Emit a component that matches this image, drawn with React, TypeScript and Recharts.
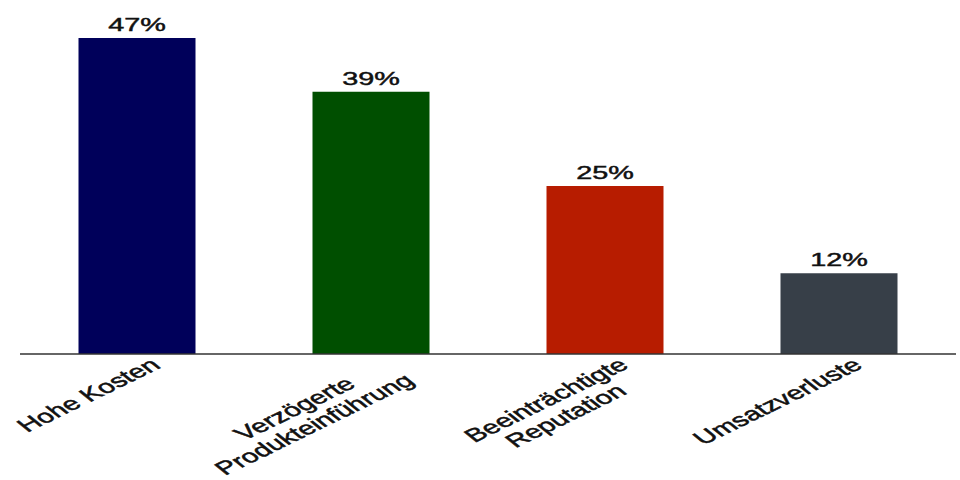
import { BarChart, Bar, XAxis, YAxis, Cell, LabelList } from 'recharts';

// Reference looks horizontally stretched, so text is drawn with a matching x-scale
const STRETCH = 1.6;
const FONT = '"Liberation Sans", Arial, Helvetica, sans-serif';

const categories = ['Hohe Kosten', 'Verzögerte\nProdukteinführung', 'Beeinträchtigte\nReputation', 'Umsatzverluste'];
const values = [47, 39, 25, 12];
const colors = ['#00005a', '#004f00', '#b71c00', '#373f48'];

const data = categories.map((name, i) => ({ name, value: values[i] }));

let ctx: CanvasRenderingContext2D | null = null;
function textWidth(s: string, size: number) {
  if (!ctx) ctx = document.createElement('canvas').getContext('2d');
  if (!ctx) return s.length * size * 0.55;
  ctx.font = `${size}px ${FONT}`;
  return ctx.measureText(s).width;
}

function CategoryTick({ x, y, payload }: any) {
  const lines = String(payload.value).split('\n');
  const size = 18.5;
  const longest = Math.max(...lines.map((l) => textWidth(l, size)));
  return (
    <g transform={`translate(${x},${y}) scale(${STRETCH},1) translate(7,2) rotate(-38)`}>
      <text fontFamily={FONT} fontSize={size} fill="#111" stroke="#111" strokeWidth={0.5} textAnchor="middle">
        {lines.map((l, i) => (
          <tspan key={i} x={-longest / 2} y={14 + i * 20}>{l}</tspan>
        ))}
      </text>
    </g>
  );
}

function ValueLabel({ x, y, width, value }: any) {
  return (
    <g transform={`translate(${x + width / 2},${y - 7}) scale(${STRETCH},1)`}>
      <text fontFamily={FONT} fontSize={18} fill="#111" stroke="#111" strokeWidth={0.45} textAnchor="middle">{`${value}%`}</text>
    </g>
  );
}

export default function App() {
  return (
    <div style={{ position: 'absolute', left: 0, top: 0, width: 960, height: 480, background: '#fff' }}>
      <BarChart width={960} height={480} data={data} margin={{ top: 38, right: 4, bottom: 26, left: 20 }} barCategoryGap="25%">
        <XAxis
          dataKey="name"
          interval={0}
          height={100}
          tickLine={false}
          tickSize={0}
          tickMargin={0}
          axisLine={{ stroke: '#333', strokeWidth: 1.5 }}
          tick={<CategoryTick />}
        />
        <YAxis hide domain={[0, 47]} />
        <Bar dataKey="value" isAnimationActive={false}>
          {data.map((d, i) => (
            <Cell key={d.name} fill={colors[i]} />
          ))}
          <LabelList dataKey="value" content={<ValueLabel />} />
        </Bar>
      </BarChart>
    </div>
  );
}
